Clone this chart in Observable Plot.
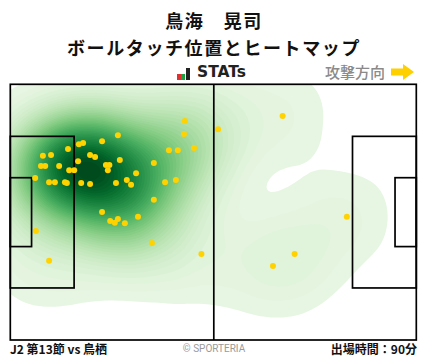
<!DOCTYPE html>
<html>
<head>
<meta charset="utf-8">
<script src="https://cdn.jsdelivr.net/npm/d3@7"></script>
<script src="https://cdn.jsdelivr.net/npm/@observablehq/plot@0.6"></script>
<style>
  html, body { margin: 0; padding: 0; background: #fff; }
  #wrap { position: relative; width: 428px; height: 359px; font-family: "Noto Sans CJK JP", "Noto Sans", sans-serif; overflow: hidden; }
  #wrap svg.plot { position: absolute; left: 0; top: 0; }
  .abs { position: absolute; white-space: nowrap; }
  #title { left: 0; width: 428px; top: 7px; text-align: center; font-weight: 700; font-size: 18px; letter-spacing: 1.5px; line-height: 26px; color: #111; }
  #subtitle { left: 0; width: 428px; top: 33.5px; text-align: center; font-weight: 700; font-size: 18px; letter-spacing: 1.6px; line-height: 26px; color: #111; }
  #stats { left: 177px; top: 63px; height: 18px; font-family: "DejaVu Sans", sans-serif; font-weight: 700; font-size: 15.5px; line-height: 18px; color: #222; }
  .bar { position: absolute; bottom: 1px; width: 3.5px; }
  #dir { left: 325px; top: 62px; font-size: 15px; line-height: 20px; color: #8a8a8a; font-weight: 500; }
  #arrow { left: 390px; top: 63px; }
  #foot1 { left: 10px; top: 340px; font-size: 12px; line-height: 18px; font-weight: 700; color: #111; }
  #foot2 { left: 0; width: 428px; top: 341px; text-align: center; font-family: "Roboto", "Noto Sans", sans-serif; font-size: 10px; line-height: 16px; color: #9a9a9a; }
  #foot3 { right: 11px; top: 340px; font-size: 12px; line-height: 18px; font-weight: 700; color: #111; }
</style>
</head>
<body>
<div id="wrap">
  <div id="title" class="abs">鳥海　晃司</div>
  <div id="subtitle" class="abs">ボールタッチ位置とヒートマップ</div>
  <div id="stats" class="abs">
    <span class="bar" style="left:0;height:6px;background:#e03030"></span>
    <span class="bar" style="left:4px;height:6px;background:#1aa040"></span>
    <span class="bar" style="left:8.5px;height:12px;background:#222;width:4px"></span>
    <span style="position:absolute;left:20px;top:0">STATs</span>
  </div>
  <div id="dir" class="abs">攻撃方向</div>
  <svg id="arrow" class="abs" width="26" height="18" viewBox="0 0 26 18">
    <polygon points="1,5.5 13,5.5 13,1 24,9 13,17 13,12.5 1,12.5" fill="#ffd000"/>
  </svg>
  <div id="foot1" class="abs">J2 第13節 vs 鳥栖</div>
  <div id="foot2" class="abs">© SPORTERIA</div>
  <div id="foot3" class="abs">出場時間：90分</div>
</div>
<script>
// Pitch dimensions (metres)
const pitchLength = 105;
const pitchWidth = 68;
const penaltyDepth = 16.5;
const penaltyWidth = 40.32;
const goalAreaDepth = 5.5;
const goalAreaWidth = 18.32;

// Ball touch positions (metres from left goal line / top touchline)
const touchX = [45.0, 44.8, 53.6, 27.7, 17.6, 18.7, 23.6, 40.9, 43.2, 47.4,
                8.3, 10.4, 14.8, 20.5, 21.8, 17.4, 28.2, 37.0, 7.8, 8.9,
                12.5, 24.6, 25.5, 25.1, 15.1, 16.4, 32.4, 6.3, 9.9, 11.4,
                14.0, 14.5, 18.2, 20.5, 27.2, 30.0, 31.1, 39.9, 42.7, 37.0,
                23.6, 25.7, 26.9, 27.7, 29.5, 32.9, 36.5, 49.3, 6.5, 9.9,
                70.3, 86.9, 73.4, 67.8];
const touchY = [9.6, 13.1, 11.8, 13.4, 15.8, 15.5, 15.0, 17.4, 17.4, 16.8,
                18.9, 18.7, 17.1, 18.7, 19.2, 20.3, 20.0, 20.8, 21.6, 21.6,
                21.6, 21.3, 21.3, 22.7, 22.7, 22.7, 23.5, 24.8, 25.9, 25.9,
                25.9, 26.1, 26.1, 26.4, 26.1, 25.3, 26.6, 25.9, 25.3, 30.6,
                33.8, 36.2, 36.7, 35.7, 36.8, 35.1, 42.1, 45.0, 38.9, 46.8,
                8.3, 35.1, 45.0, 48.2];

const touches = touchX.map((x, i) => ({x, y: touchY[i]}));

const midY = pitchWidth / 2;
const boxes = [
  {x1: 0, x2: pitchLength, y1: 0, y2: pitchWidth},
  {x1: 0, x2: penaltyDepth, y1: midY - penaltyWidth / 2, y2: midY + penaltyWidth / 2},
  {x1: 0, x2: goalAreaDepth, y1: midY - goalAreaWidth / 2, y2: midY + goalAreaWidth / 2},
  {x1: pitchLength - penaltyDepth, x2: pitchLength, y1: midY - penaltyWidth / 2, y2: midY + penaltyWidth / 2},
  {x1: pitchLength - goalAreaDepth, x2: pitchLength, y1: midY - goalAreaWidth / 2, y2: midY + goalAreaWidth / 2}
];

const chart = Plot.plot({
  width: 428,
  height: 359,
  marginLeft: 10.3,
  marginRight: 11.7,
  marginTop: 84.3,
  marginBottom: 19,
  x: {domain: [0, pitchLength], axis: null},
  y: {domain: [0, pitchWidth], reverse: true, axis: null},
  color: {type: "linear", interpolate: t => d3.interpolateGreens(0.08 + 0.9 * t)},
  style: {background: "transparent"},
  marks: [
    Plot.density(touches, {x: "x", y: "y", fill: "density", bandwidth: 31, thresholds: 45, clip: true}),
    Plot.rect(boxes, {x1: "x1", x2: "x2", y1: "y1", y2: "y2", fill: "none", stroke: "#000", strokeWidth: 1.7}),
    Plot.ruleX([pitchLength / 2], {y1: 0, y2: pitchWidth, stroke: "#000", strokeWidth: 1.7}),
    Plot.dot(touches, {x: "x", y: "y", r: 3, fill: "#ffd200", stroke: "none"})
  ]
});
chart.classList.add("plot");
document.getElementById("wrap").prepend(chart);
</script>
</body>
</html>
